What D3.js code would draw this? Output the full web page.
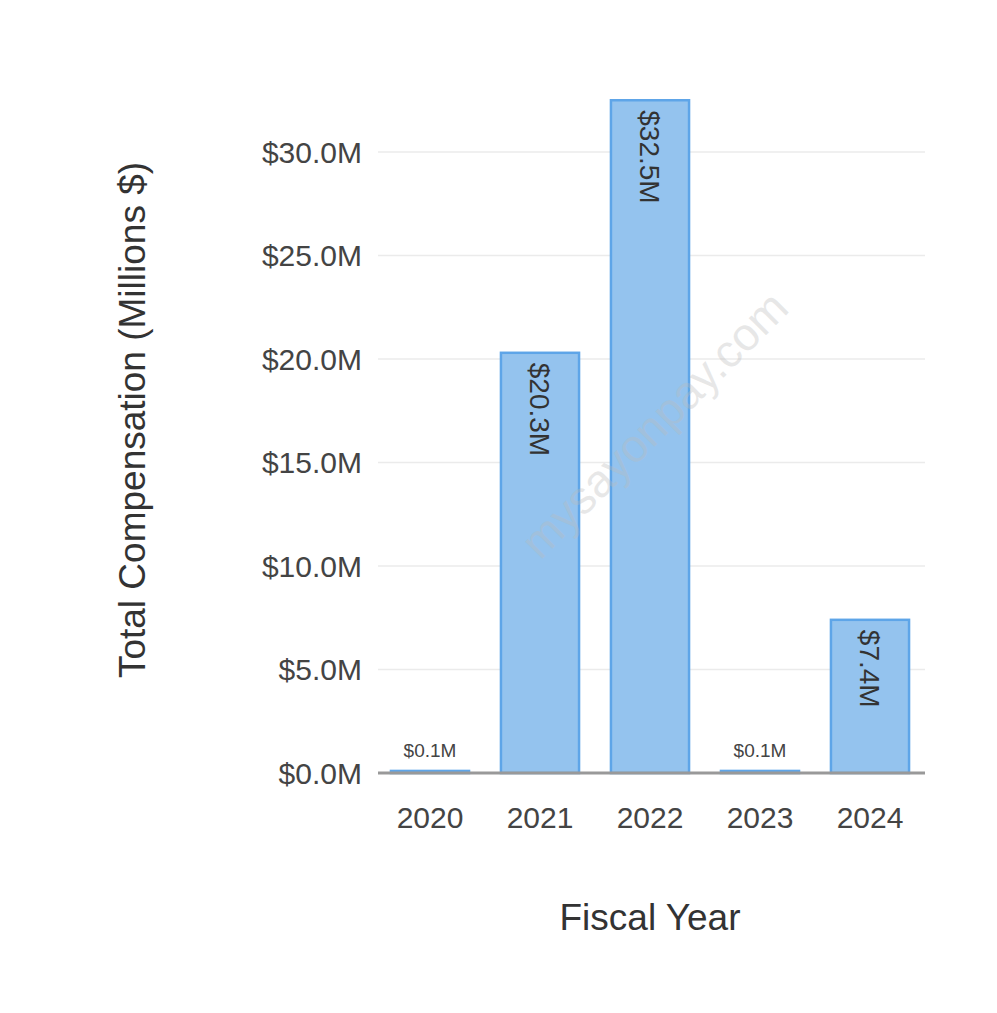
<!DOCTYPE html>
<html><head><meta charset="utf-8">
<script src="https://cdn.jsdelivr.net/npm/d3@7/dist/d3.min.js"></script>
<style>body{margin:0;background:#fff}</style></head>
<body><svg id="c" width="997" height="1013"></svg>
<script>
const years = ["2020","2021","2022","2023","2024"];
const values = [0.1,20.3,32.5,0.1,7.4];
const labels = ["$0.1M","$20.3M","$32.5M","$0.1M","$7.4M"];
const ticks = [0,5,10,15,20,25,30];

const svg = d3.select("#c");
const font = "'Liberation Sans', Arial, sans-serif";
const x = d3.scaleBand().domain(years).range([375,925]).paddingInner(0.29).paddingOuter(0.145);
const y = d3.scaleLinear().domain([0,30]).range([773,152]);

svg.append("g").selectAll("line").data(ticks.slice(1)).join("line")
  .attr("x1",378).attr("x2",925).attr("y1",d=>y(d)).attr("y2",d=>y(d))
  .attr("stroke","#ebebeb").attr("stroke-width",1.5);

svg.append("g").selectAll("rect").data(values).join("rect")
  .attr("x",(d,i)=>x(years[i])).attr("width",x.bandwidth())
  .attr("y",d=>y(d)).attr("height",d=>y(0)-y(d))
  .attr("fill","#94c3ee").attr("stroke","#5ea5e8").attr("stroke-width",2.5);

svg.append("line").attr("x1",378).attr("x2",925).attr("y1",y(0)).attr("y2",y(0))
  .attr("stroke","#999").attr("stroke-width",3);

values.forEach((v,i)=>{
  const cx = x(years[i])+x.bandwidth()/2;
  if (v < 3) {
    svg.append("text").attr("x",cx).attr("y",y(v)-14).attr("text-anchor","middle")
      .attr("font-family",font).attr("font-size",19).attr("fill","#444").text(labels[i]);
  } else {
    const ty = y(v)+10;
    svg.append("text").attr("transform",`translate(${cx},${ty}) rotate(90)`)
      .attr("dy","0.35em").attr("text-anchor","start")
      .attr("font-family",font).attr("font-size",28).attr("fill","#333").text(labels[i]);
  }
});

svg.append("text").attr("x",655).attr("y",440).attr("transform","rotate(-45,655,425)")
  .attr("text-anchor","middle").attr("font-family",font).attr("font-size",46)
  .attr("fill","#bbb").attr("fill-opacity",0.35).text("mysayonpay.com");

svg.append("g").selectAll("text").data(ticks).join("text")
  .attr("x",362).attr("y",d=>y(d)).attr("dy","0.35em").attr("text-anchor","end")
  .attr("font-family",font).attr("font-size",30).attr("fill","#444")
  .text(d=>"$"+d.toFixed(1)+"M");

svg.append("g").selectAll("text").data(years).join("text")
  .attr("x",d=>x(d)+x.bandwidth()/2).attr("y",828).attr("text-anchor","middle")
  .attr("font-family",font).attr("font-size",30).attr("fill","#444").text(d=>d);

svg.append("text").attr("x",650).attr("y",930).attr("text-anchor","middle")
  .attr("font-family",font).attr("font-size",37).attr("fill","#333").text("Fiscal Year");
svg.append("text").attr("transform","translate(145,420) rotate(-90)").attr("text-anchor","middle")
  .attr("font-family",font).attr("font-size",37).attr("fill","#333").text("Total Compensation (Millions $)");
</script></body></html>
